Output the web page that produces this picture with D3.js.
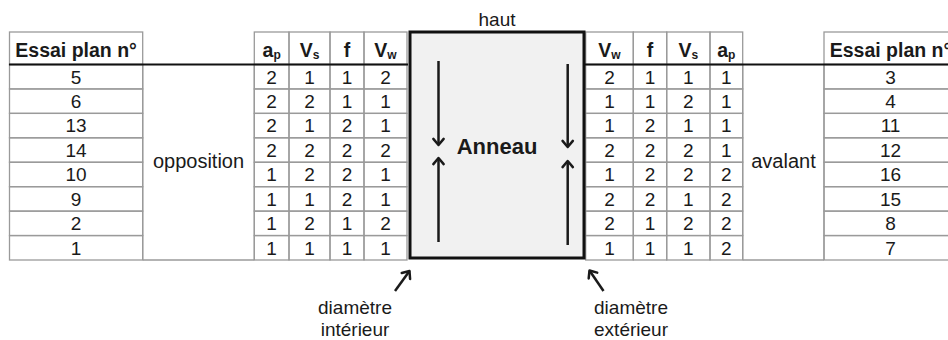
<!DOCTYPE html>
<html><head><meta charset="utf-8">
<script src="https://cdn.jsdelivr.net/npm/d3@7/dist/d3.min.js"></script>
<style>body{margin:0;background:#fff}svg{display:block}text{font-family:"Liberation Sans",Arial,sans-serif;fill:#1a1a1a}</style>
</head><body><svg id="c" width="948" height="340"></svg>
<script>
// ---- data ----
const leftEssai = [5, 6, 13, 14, 10, 9, 2, 1];
const leftAp = [2, 2, 2, 2, 1, 1, 1, 1];
const leftVs = [1, 2, 1, 2, 2, 1, 2, 1];
const leftF  = [1, 1, 2, 2, 2, 2, 1, 1];
const leftVw = [2, 1, 1, 2, 1, 1, 2, 1];
const rightVw = [2, 1, 1, 2, 1, 2, 2, 1];
const rightF  = [1, 1, 2, 2, 2, 2, 1, 1];
const rightVs = [1, 2, 1, 2, 2, 1, 2, 1];
const rightAp = [1, 1, 1, 1, 2, 2, 2, 2];
const rightEssai = [3, 4, 11, 12, 16, 15, 8, 7];
const essaiHeader = "Essai plan n°";
const leftGroup = "opposition";
const rightGroup = "avalant";
const boxTitle = "haut";
const boxLabel = "Anneau";
const noteLeft = ["diamètre", "intérieur"];
const noteRight = ["diamètre", "extérieur"];

const svg = d3.select("#c");
const headTop = 32, headBot = 64.5, tableBot = 260;
const y = d3.scaleBand().domain(d3.range(8)).range([headBot, tableBot]);
const grid = "#9a9a9a";

// column definitions: [x0, x1, header(main, sub), values]
const leftCols = [
  {x0: 9.5, x1: 142.7, head: [essaiHeader, ""], vals: leftEssai},
  {x0: 254.3, x1: 289, head: ["a", "p"], vals: leftAp},
  {x0: 289, x1: 330, head: ["V", "s"], vals: leftVs},
  {x0: 330, x1: 364, head: ["f", ""], vals: leftF},
  {x0: 364, x1: 407, head: ["V", "w"], vals: leftVw}
];
const rightCols = [
  {x0: 585.7, x1: 633.3, head: ["V", "w"], vals: rightVw},
  {x0: 633.3, x1: 666.7, head: ["f", ""], vals: rightF},
  {x0: 666.7, x1: 710, head: ["V", "s"], vals: rightVs},
  {x0: 710, x1: 742.7, head: ["a", "p"], vals: rightAp},
  {x0: 824, x1: 957, head: [essaiHeader, ""], vals: rightEssai}
];
const cols = leftCols.concat(rightCols);

const g = svg.append("g");
// cell borders
cols.forEach(c => {
  g.append("rect").attr("x", c.x0).attr("y", headTop).attr("width", c.x1 - c.x0).attr("height", headBot - headTop)
    .attr("fill", "none").attr("stroke", grid).attr("stroke-width", 1.3);
  d3.range(8).forEach(i => {
    g.append("rect").attr("x", c.x0).attr("y", y(i)).attr("width", c.x1 - c.x0).attr("height", y.bandwidth())
      .attr("fill", "none").attr("stroke", grid).attr("stroke-width", 1.3);
  });
});
// group columns: sides + bottom
[[142.7, 254.3], [742.7, 824]].forEach(([a, b]) => {
  g.append("line").attr("x1", a).attr("x2", a).attr("y1", headBot).attr("y2", tableBot).attr("stroke", grid).attr("stroke-width", 1.3);
  g.append("line").attr("x1", b).attr("x2", b).attr("y1", headBot).attr("y2", tableBot).attr("stroke", grid).attr("stroke-width", 1.3);
  g.append("line").attr("x1", a).attr("x2", b).attr("y1", tableBot).attr("y2", tableBot).attr("stroke", grid).attr("stroke-width", 1.3);
});
// thick header lines
g.append("line").attr("x1", 9).attr("x2", 408).attr("y1", headBot).attr("y2", headBot).attr("stroke", "#111").attr("stroke-width", 2);
g.append("line").attr("x1", 585).attr("x2", 948).attr("y1", headBot).attr("y2", headBot).attr("stroke", "#111").attr("stroke-width", 2);

// header texts
cols.forEach(c => {
  const t = g.append("text").attr("x", (c.x0 + c.x1) / 2).attr("y", 57).attr("text-anchor", "middle")
    .attr("font-weight", "bold").attr("font-size", 19.5);
  t.append("tspan").text(c.head[0]);
  if (c.head[1]) t.append("tspan").attr("font-size", 12).attr("dy", 2).text(c.head[1]);
  c.vals.forEach((v, i) => {
    g.append("text").attr("x", (c.x0 + c.x1) / 2).attr("y", y(i) + y.bandwidth() / 2 + 6.8)
      .attr("text-anchor", "middle").attr("font-size", 19).text(v);
  });
});
// group labels
g.append("text").attr("x", 198.5).attr("y", (headBot + tableBot) / 2 + 6).attr("text-anchor", "middle").attr("font-size", 20).text(leftGroup);
g.append("text").attr("x", 783.5).attr("y", (headBot + tableBot) / 2 + 6).attr("text-anchor", "middle").attr("font-size", 20).text(rightGroup);

// ring box
g.append("rect").attr("x", 410).attr("y", 32).attr("width", 174).attr("height", 226)
  .attr("fill", "#f1f1f1").attr("stroke", "#111").attr("stroke-width", 3);
g.append("text").attr("x", 497).attr("y", 26).attr("text-anchor", "middle").attr("font-size", 19).text(boxTitle);
g.append("text").attr("x", 497).attr("y", 154).attr("text-anchor", "middle").attr("font-size", 22).attr("font-weight", "bold").text(boxLabel);

function arrow(x1, y1, x2, y2, w) {
  const a = Math.atan2(y2 - y1, x2 - x1), L = 8, s = 0.7;
  g.append("line").attr("x1", x1).attr("y1", y1).attr("x2", x2).attr("y2", y2).attr("stroke", "#1a1a1a").attr("stroke-width", w);
  const p = [[x2 - L * Math.cos(a - s), y2 - L * Math.sin(a - s)], [x2, y2], [x2 - L * Math.cos(a + s), y2 - L * Math.sin(a + s)]];
  g.append("path").attr("d", d3.line()(p)).attr("fill", "none").attr("stroke", "#1a1a1a").attr("stroke-width", w).attr("stroke-linecap", "round").attr("stroke-linejoin", "round");
}
arrow(438.5, 61, 438.5, 145, 2.5);
arrow(438.5, 242, 438.5, 158, 2.5);
arrow(567.7, 64, 567.7, 147, 2.5);
arrow(567.7, 245, 567.7, 161, 2.5);
arrow(395, 291, 409.5, 271, 2.5);
arrow(603.5, 291, 589.5, 270.5, 2.5);

// notes
noteLeft.forEach((t, i) => g.append("text").attr("x", 355).attr("y", 314 + i * 22).attr("text-anchor", "middle").attr("font-size", 19).text(t));
noteRight.forEach((t, i) => g.append("text").attr("x", 631).attr("y", 314 + i * 22).attr("text-anchor", "middle").attr("font-size", 19).text(t));
</script></body></html>
